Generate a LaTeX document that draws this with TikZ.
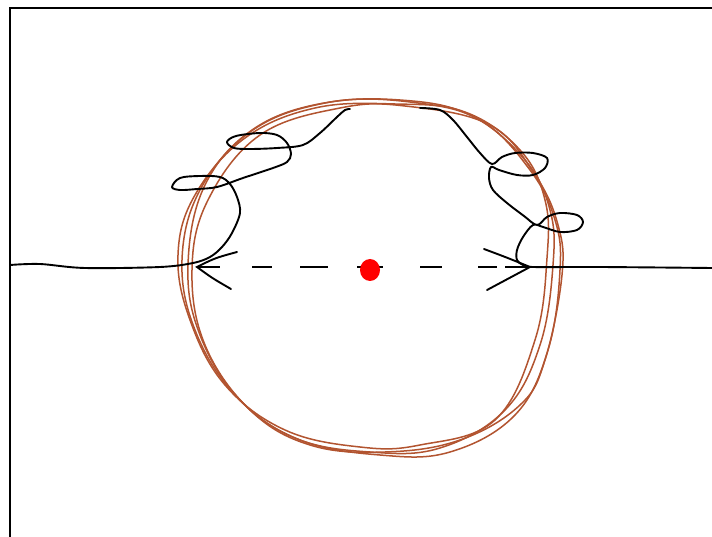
\documentclass[tikz,border=0pt]{standalone}
\usepackage{tikz}
\usepackage{xcolor}
\usetikzlibrary{shapes.geometric}
\definecolor{rimbrown}{RGB}{178,84,48}
\definecolor{dotred}{RGB}{255,0,0}

\begin{document}
\begin{tikzpicture}[
    x=1pt,y=-1pt,
    frame/.style={draw=black,line width=2pt},
    ring/.style={draw=rimbrown,line width=1.5pt,smooth cycle,tension=0.65},
    trail/.style={draw=black,line width=1.9pt,smooth,tension=0.55,line cap=round,line join=round},
    barb/.style={draw=black,line width=1.9pt,line cap=round},
    axis/.style={draw=black,line width=1.9pt,
      dash pattern=on 23pt off 32pt on 20pt off 28pt on 28pt off 29pt on 26pt off 37pt on 22pt off 36pt on 19pt off 8pt on 25pt}
  ]
    \useasboundingbox (0,0) rectangle (712,537);
    \draw[frame] (10,537) -- (10,8) -- (712,8);

    % the scribbled rim
    \draw[ring] plot coordinates {(553,265) (540,345) (505,410) (440,448) (370,452) (295,438) (235,395) (195,330) (182,260) (200,190) (250,132) (320,104) (400,100) (470,115) (525,160) (550,210)};
    \draw[ring] plot coordinates {(560,270) (548,350) (515,415) (450,452) (380,455) (300,440) (240,400) (200,335) (188,265) (205,185) (255,128) (330,102) (410,102) (480,120) (530,170) (555,220)};
    \draw[ring] plot coordinates {(547,258) (535,340) (495,420) (420,445) (360,447) (285,430) (225,385) (190,320) (178,255) (195,195) (245,138) (315,108) (395,104) (465,112) (520,150) (545,200)};
    \draw[ring] plot coordinates {(562,275) (545,360) (520,405) (460,440) (385,452) (310,445) (250,410) (205,345) (192,270) (208,200) (260,135) (340,108) (405,106) (490,125) (535,175) (558,225)};

    % the wandering line
    \draw[trail] plot coordinates {(10,265) (40,264) (85,268) (160,267) (193,263) (210,257) (222,247) (232,233) (240,213) (237,197) (230,184) (220,177) (200,176) (180,178) (172,187) (180,190) (197,189) (217,187) (243,178) (273,168) (287,162) (291,154) (287,143) (277,135) (260,133) (236,136) (227,142) (234,148) (250,149) (277,148) (303,145) (320,133) (337,117) (345,110) (350,109)};
    \draw[trail] plot coordinates {(420,108) (440,110) (453,120) (467,137) (480,153) (492,164) (502,157) (515,153) (533,153) (547,158) (545,168) (533,175) (517,175) (499,170) (491,167) (489,178) (493,190) (507,203) (524,216) (537,225) (547,217) (560,213) (577,215) (583,222) (577,230) (560,232) (543,227) (533,225) (523,237) (517,250) (517,260) (523,265) (533,267) (600,267) (712,268)};

    % the dashed diameter
    \coordinate (lefttip) at (197,267);
    \coordinate (righttip) at (530,267);
    \draw[axis] (lefttip) -- (righttip);
    \draw[barb] (237,252) .. controls (215,258) .. (lefttip) .. controls (212,278) .. (231,289);
    \draw[barb] (484,249) .. controls (508,258) .. (righttip) .. controls (508,278) .. (487,290);

    \node[fill=dotred,ellipse,minimum width=20pt,minimum height=22pt,inner sep=0pt] (centre) at (370,270) {};
  \end{tikzpicture}
\end{document}
